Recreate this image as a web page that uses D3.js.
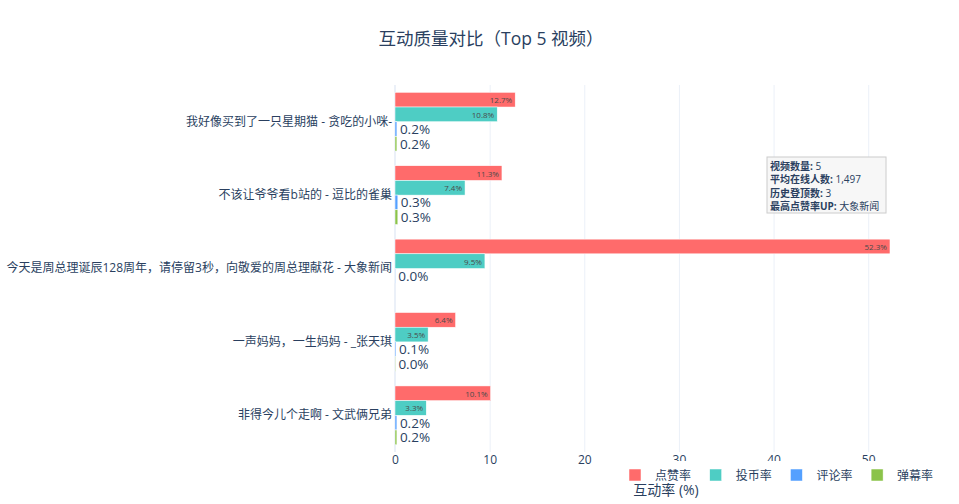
<!DOCTYPE html>
<html>
<head>
<meta charset="utf-8">
<script src="https://cdn.jsdelivr.net/npm/d3@7"></script>
<style>
  body { margin: 0; background: #fff; }
  svg { font-family: "Open Sans", "Noto Sans CJK SC", sans-serif; }
</style>
</head>
<body>
<svg id="chart"></svg>
<script>
//Chart Data
const videos = [
  "我好像买到了一只星期猫 - 贪吃的小咪-",
  "不该让爷爷看b站的 - 逗比的雀巢",
  "今天是周总理诞辰128周年，请停留3秒，向敬爱的周总理献花 - 大象新闻",
  "一声妈妈，一生妈妈 - _张天琪",
  "非得今儿个走啊 - 文武俩兄弟"
];
const likeRate = [12.7, 11.3, 52.3, 6.4, 10.1];
const coinRate = [10.8, 7.4, 9.5, 3.5, 3.3];
const commentRate = [0.2, 0.3, 0.03, 0.1, 0.2];
const danmakuRate = [0.2, 0.3, 0, 0.04, 0.2];
const seriesNames = ["点赞率", "投币率", "评论率", "弹幕率"];
const seriesColors = ["#FF6B6B", "#4ECDC4", "#54A0FF", "#8BC34A"];
const xTicks = [0, 10, 20, 30, 40, 50];
const noteLabels = ["视频数量", "平均在线人数", "历史登顶数", "最高点赞率UP"];
const noteValues = ["5", "1,497", "3", "大象新闻"];

const w = 959;
const h = 504;
const textColor = "#2a3f5f";

const chart = d3.select("#chart").attr("width", w).attr("height", h);

//Scales
const xScale = d3.scaleLinear().domain([0, 55.05]).range([395, 916]);
const yScale = d3.scaleBand().domain(videos).range([85, 452]);
const ySub = d3.scaleBand().domain(seriesNames)
               .range([0, yScale.bandwidth()])
               .paddingInner(0).paddingOuter(0.5);

//Grid
chart.append("g")
     .attr("transform", "translate(0, 452)")
     .call(d3.axisBottom(xScale).tickValues(xTicks.slice(1)).tickSize(-367).tickFormat(""))
     .call(g => g.select(".domain").remove())
     .call(g => g.selectAll("line").attr("stroke", "#EBF0F8").attr("stroke-width", 1));

//Zero line
chart.append("line")
     .attr("x1", xScale(0)).attr("x2", xScale(0))
     .attr("y1", 85).attr("y2", 452)
     .attr("stroke", "#EBF0F8").attr("stroke-width", 2);

//Bars
const rows = videos.map((v, i) => ({
  name: v,
  values: [likeRate[i], coinRate[i], commentRate[i], danmakuRate[i]]
}));

const groups = chart.append("g").selectAll("g")
                    .data(rows).enter().append("g")
                    .attr("transform", d => `translate(0, ${yScale(d.name)})`);

groups.selectAll("rect")
      .data(d => d.values.map((v, k) => ({ v: v, k: k })))
      .enter().append("rect")
      .attr("x", xScale(0))
      .attr("y", d => ySub(seriesNames[d.k]))
      .attr("width", d => xScale(d.v) - xScale(0))
      .attr("height", ySub.bandwidth())
      .attr("fill", d => seriesColors[d.k])
      .attr("stroke", "#fff")
      .attr("stroke-width", 0.5);

//Bar texts: inside for wide bars, outside for thin ones
groups.selectAll("text")
      .data(d => d.values.map((v, k) => ({ v: v, k: k })).filter(d => d.v > 0))
      .enter().append("text")
      .attr("y", d => ySub(seriesNames[d.k]) + ySub.bandwidth() / 2)
      .attr("dominant-baseline", "central")
      .each(function(d){
        const inside = (xScale(d.v) - xScale(0)) > 30;
        d3.select(this)
          .attr("x", inside ? xScale(d.v) - 3 : xScale(d.v) + 3)
          .attr("text-anchor", inside ? "end" : "start")
          .attr("font-size", inside ? 8 : 13.5)
          .attr("fill", inside ? "#4a4a4a" : textColor);
      })
      .text(d => d.v.toFixed(1) + "%");

//Y axis labels
chart.append("g")
     .attr("transform", "translate(395, 0)")
     .call(d3.axisLeft(yScale).tickSize(0).tickPadding(3))
     .call(g => g.select(".domain").remove())
     .call(g => g.selectAll("text").attr("font-size", 12).attr("fill", textColor)
                 .attr("font-family", '"Open Sans", "Noto Sans CJK SC", sans-serif'));

//X axis labels
chart.append("g")
     .attr("transform", "translate(0, 452)")
     .call(d3.axisBottom(xScale).tickValues(xTicks).tickSize(0).tickPadding(3))
     .call(g => g.select(".domain").remove())
     .call(g => g.selectAll("text").attr("font-size", 12).attr("fill", textColor)
                 .attr("font-family", '"Open Sans", sans-serif'));

//Title
chart.append("text")
     .attr("x", 491).attr("y", 38)
     .attr("text-anchor", "middle")
     .attr("dominant-baseline", "central")
     .attr("font-size", 17.5)
     .attr("fill", textColor)
     .text("互动质量对比（Top 5 视频）");

//Stats note
const note = chart.append("g");
note.append("rect")
    .attr("x", 767).attr("y", 157).attr("width", 119).attr("height", 56)
    .attr("fill", "#f7f7f7").attr("stroke", "#cccccc").attr("stroke-width", 1);
noteLabels.forEach((lab, i) => {
  const t = note.append("text")
                .attr("x", 770).attr("y", 166 + i * 13.3)
                .attr("dominant-baseline", "central")
                .attr("font-size", 10)
                .attr("fill", textColor);
  t.append("tspan").attr("font-weight", "bold").text(lab + ": ");
  t.append("tspan").text(noteValues[i]);
});

//Legend
const legend = chart.append("g");
legend.append("rect")
      .attr("x", 613).attr("y", 461).attr("width", 340).attr("height", 30)
      .attr("fill", "#fff");
const items = legend.selectAll("g.item")
                    .data(seriesNames).enter().append("g")
                    .attr("transform", (d, i) => `translate(${615 + i * 80.7}, 475)`);
items.append("rect")
     .attr("x", 14).attr("y", -6).attr("width", 12).attr("height", 12)
     .attr("fill", (d, i) => seriesColors[i])
     .attr("stroke", "#fff").attr("stroke-width", 0.5);
items.append("text")
     .attr("x", 40).attr("y", 0)
     .attr("dominant-baseline", "central")
     .attr("font-size", 12)
     .attr("fill", textColor)
     .text(d => d);

//X axis title
chart.append("text")
     .attr("x", 666).attr("y", 489)
     .attr("text-anchor", "middle")
     .attr("dominant-baseline", "central")
     .attr("font-size", 14)
     .attr("fill", textColor)
     .text("互动率 (%)");
</script>
</body>
</html>
